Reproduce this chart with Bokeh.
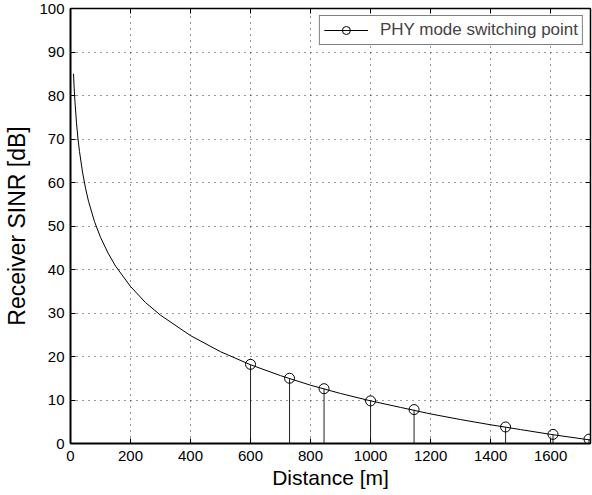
from bokeh.plotting import figure
from bokeh.models import LinearAxis, Range1d, FixedTicker, Legend, LegendItem
from bokeh.embed import file_html
from bokeh.resources import INLINE

# Curve: distance [m] vs receiver SINR [dB]
curve_distance = [10, 12, 15, 20, 25, 30, 40, 50, 60, 80, 100, 125, 150, 200, 250,
                  300, 400, 500, 600, 700, 800, 900, 1000, 1100, 1200, 1300, 1400,
                  1500, 1600, 1733]
curve_sinr = [85.0, 82.0, 78.4, 73.7, 70.0, 67.1, 62.4, 58.7, 55.7, 51.0, 47.4, 43.8,
              40.8, 36.1, 32.4, 29.5, 24.8, 21.1, 18.1, 15.6, 13.4, 11.5, 9.8, 8.3,
              6.8, 5.5, 4.3, 3.2, 2.1, 0.8]

# PHY mode switching points
switch_distance = [600, 730, 845, 1000, 1145, 1450, 1608, 1728]
switch_sinr = [18.2, 15.0, 12.6, 9.8, 7.8, 3.8, 2.1, 1.0]
switch_base = [0, 0, 0, 0, 0, 0, 0, 0]

x_ticks = [0, 200, 400, 600, 800, 1000, 1200, 1400, 1600]
y_ticks = [0, 10, 20, 30, 40, 50, 60, 70, 80, 90, 100]

FONT = "Liberation Sans"

p = figure(width=592, height=495, x_range=Range1d(0, 1733), y_range=Range1d(0, 100),
           output_backend="svg", toolbar_location=None,
           min_border_left=70, min_border_right=2, min_border_top=8, min_border_bottom=52,
           background_fill_color="white", border_fill_color="white")
p.outline_line_color = "black"
p.outline_line_width = 1

for ax in (p.xaxis[0], p.yaxis[0]):
    ax.major_tick_in = 5
    ax.major_tick_out = 0
    ax.minor_tick_in = 0
    ax.minor_tick_out = 0
    ax.axis_line_width = 2
    ax.axis_line_color = "black"
    ax.major_tick_line_color = "black"
    ax.major_label_text_font = FONT
    ax.major_label_text_font_size = "15px"
    ax.major_label_text_color = "black"
    ax.axis_label_text_font = FONT
    ax.axis_label_text_font_style = "normal"
    ax.axis_label_text_color = "black"

p.xaxis.ticker = FixedTicker(ticks=x_ticks)
p.yaxis.ticker = FixedTicker(ticks=y_ticks)
p.xaxis.axis_label = "Distance [m]"
p.yaxis.axis_label = "Receiver SINR [dB]"
p.xaxis.axis_label_text_font_size = "21px"
p.yaxis.axis_label_text_font_size = "23px"
p.xaxis.major_label_standoff = 7
p.yaxis.major_label_standoff = 6
p.xaxis.axis_label_standoff = 2
p.yaxis.axis_label_standoff = 6

# top and right axes with inward ticks, no labels (MATLAB box style)
top = LinearAxis(ticker=FixedTicker(ticks=x_ticks))
right = LinearAxis(ticker=FixedTicker(ticks=y_ticks))
for ax in (top, right):
    ax.major_tick_in = 5
    ax.major_tick_out = 0
    ax.minor_tick_in = 0
    ax.minor_tick_out = 0
    ax.axis_line_width = 1.5
    ax.major_label_text_font_size = "1px"
    ax.major_label_text_alpha = 0
    ax.major_label_standoff = 0
p.add_layout(top, "above")
p.add_layout(right, "right")

for g in (p.xgrid[0], p.ygrid[0]):
    g.grid_line_color = "#333333"
    g.grid_line_dash = "1 5"
    g.grid_line_width = 1
p.xgrid.ticker = FixedTicker(ticks=x_ticks)
p.ygrid.ticker = FixedTicker(ticks=y_ticks)

curve = p.line(curve_distance, curve_sinr, line_color="black", line_width=1)
p.segment(x0=switch_distance, y0=switch_base, x1=switch_distance, y1=switch_sinr,
          line_color="#222222", line_width=1)
pts = p.scatter(switch_distance, switch_sinr, marker="circle", size=10,
                fill_color=None, line_color="black", line_width=1)

legend = Legend(items=[LegendItem(label="PHY mode switching point", renderers=[curve, pts])],
                location="top_right")
legend.label_text_font = FONT
legend.label_text_font_size = "17px"
legend.border_line_color = "black"
legend.border_line_width = 1
legend.glyph_width = 44
legend.label_standoff = 12
legend.padding = 4
legend.margin = 7
legend.background_fill_color = "white"
legend.background_fill_alpha = 1
p.add_layout(legend)

open("out.html", "w").write(file_html(p, INLINE))
